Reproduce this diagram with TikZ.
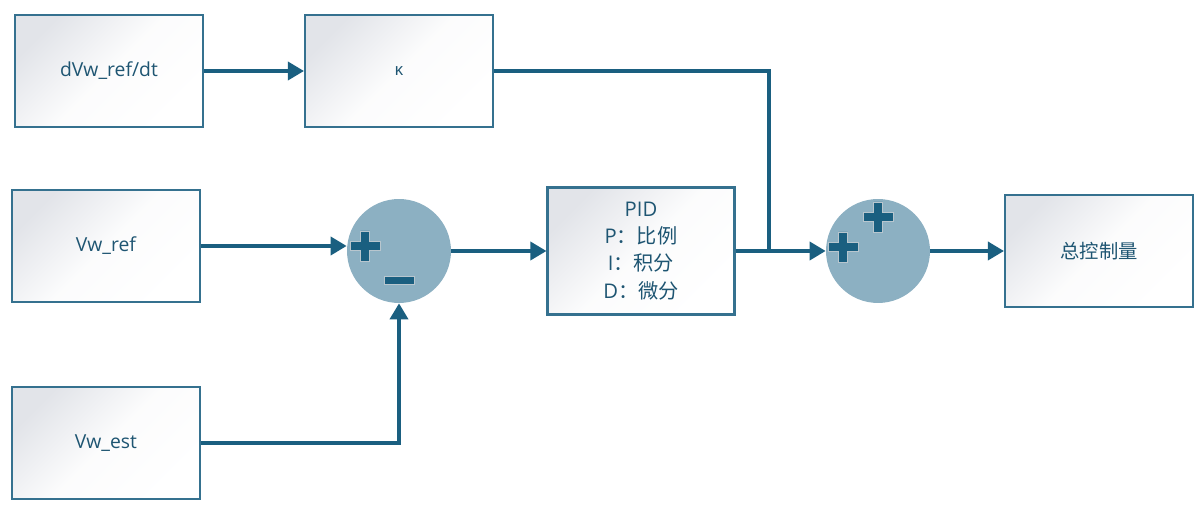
\documentclass[tikz,border=0pt]{standalone}
\usepackage{fontspec}
\setmainfont{Open Sans}
\newfontfamily\cjk{Noto Sans CJK SC}
\usetikzlibrary{arrows.meta}
\definecolor{flowblue}{HTML}{1A5F80}
\definecolor{boxedge}{HTML}{35718F}
\definecolor{boxgray}{HTML}{E2E4E9}
\definecolor{sumfill}{HTML}{8CB0C2}
\definecolor{txtblue}{HTML}{1E5572}
\definecolor{signedge}{HTML}{B8C6CE}

\begin{document}
\begin{tikzpicture}[x=0.02cm, y=-0.02cm, >={Triangle[length=3.2mm, width=3.6mm]},
  block/.style={draw=boxedge, line width=1.2pt, top color=boxgray, bottom color=white,
    middle color=white!88!boxgray, shading angle=45, text=txtblue,
    font=\fontsize{11}{15.5}\selectfont,
    minimum width=3.76cm, minimum height=2.24cm, inner sep=0pt},
  sumnode/.style={circle, fill=sumfill, minimum size=2.08cm, inner sep=0pt},
  flow/.style={flowblue, line width=2pt},
  sign/.style={fill=flowblue, draw=signedge, line width=0.4pt},
  plussign/.pic={\filldraw[sign] (-15,-4.5) -- (-4.5,-4.5) -- (-4.5,-15) -- (4.5,-15)
    -- (4.5,-4.5) -- (15,-4.5) -- (15,4.5) -- (4.5,4.5) -- (4.5,15) -- (-4.5,15)
    -- (-4.5,4.5) -- (-15,4.5) -- cycle;},
  minussign/.pic={\filldraw[sign] (-15,-4) rectangle (15,4);}]

\useasboundingbox (0,0) rectangle (1197,509);

% input blocks
\node[block] (rate)  at (109,71)  {dVw\_ref/dt};
\node[block, font=\fontsize{9.5}{11}\selectfont] (gain) at (399,71) {κ};
\node[block] (vwref) at (106,246) {Vw\_ref};
\node[block] (vwest) at (106,443) {Vw\_est};

% controller and output
\node[block, minimum width=3.74cm, minimum height=2.54cm, align=center,
  font=\fontsize{11.5}{15.5}\selectfont] (pid) at (641,251)
  {PID\\P{\cjk：比例}\\I{\cjk：积分}\\D{\cjk：微分}};
\node[block] (total) at (1099,251) {\cjk 总控制量};

% summing junctions
\node[sumnode] (sum1) at (399,251) {};
\node[sumnode] (sum2) at (878,251) {};
\pic at (365,246) {plussign};
\pic at (399,280) {minussign};
\pic at (843,247) {plussign};
\pic at (878,217) {plussign};

\coordinate (merge) at (769,251);

% connections
\draw[flow, ->] (rate) -- (gain);
\draw[flow] (gain.east) -| (merge);
\draw[flow, ->] (vwref.east) -- (vwref.east -| sum1.west);
\draw[flow, ->] (vwest.east) -| (sum1.south);
\draw[flow, ->] (sum1) -- (pid);
\draw[flow, ->] (pid) -- (sum2);
\draw[flow, ->] (sum2) -- (total);

\end{tikzpicture}
\end{document}
